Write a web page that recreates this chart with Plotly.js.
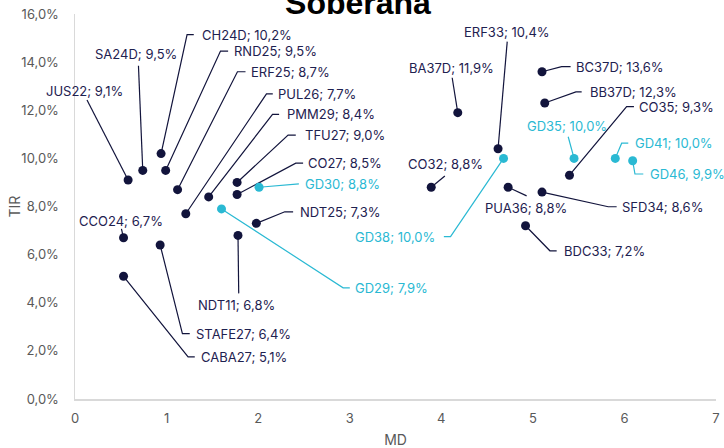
<!DOCTYPE html>
<html>
<head>
<meta charset="utf-8">
<script src="https://cdn.plot.ly/plotly-3.0.1.min.js"></script>
<style>html,body{margin:0;padding:0;background:#fff;}#chart{width:724px;height:448px;}</style>
</head>
<body>
<div id="chart"></div>
<script>
// ---- data ----
var names = ["JUS22","SA24D","CH24D","RND25","ERF25","PUL26","PMM29","TFU27","CO27","GD30","GD29","NDT25","CCO24","STAFE27","CABA27","NDT11",
             "ERF33","BA37D","BC37D","BB37D","CO35","GD35","GD41","GD46","CO32","PUA36","SFD34","GD38","BDC33"];
var md  = [0.58,0.74,0.94,0.99,1.12,1.21,1.46,1.77,1.77,2.01,1.60,1.98,0.53,0.93,0.53,1.78,
           4.62,4.18,5.10,5.13,5.40,5.45,5.90,6.09,3.89,4.73,5.10,4.68,4.92];
var tir = [9.1,9.5,10.2,9.5,8.7,7.7,8.4,9.0,8.5,8.8,7.9,7.3,6.7,6.4,5.1,6.8,
           10.4,11.9,13.6,12.3,9.3,10.0,10.0,9.9,8.8,8.8,8.6,10.0,7.2];
var labels = ["JUS22; 9,1%","SA24D; 9,5%","CH24D; 10,2%","RND25; 9,5%","ERF25; 8,7%","PUL26; 7,7%","PMM29; 8,4%","TFU27; 9,0%","CO27; 8,5%","GD30; 8,8%","GD29; 7,9%","NDT25; 7,3%","CCO24; 6,7%","STAFE27; 6,4%","CABA27; 5,1%","NDT11; 6,8%",
              "ERF33; 10,4%","BA37D; 11,9%","BC37D; 13,6%","BB37D; 12,3%","CO35; 9,3%","GD35; 10,0%","GD41; 10,0%","GD46, 9,9%","CO32; 8,8%","PUA36; 8,8%","SFD34; 8,6%","GD38; 10,0%","BDC33; 7,2%"];
var hardDollar = ["GD30","GD29","GD35","GD41","GD46","GD38"];

// ---- label placement (layout only): text anchor [x, y, xanchor], leader path points after the marker ----
var place = {
  JUS22:  {t:[0.10,12.81,'center'], p:[[0.131,12.43]]},
  SA24D:  {t:[0.669,14.33,'center'], p:[[0.693,13.85]]},
  CH24D:  {t:[1.363,15.14,'left'], p:[[1.224,15.14],[1.297,15.14]]},
  RND25:  {t:[1.715,14.46,'left'], p:[[1.589,14.46],[1.672,14.46]]},
  ERF25:  {t:[1.901,13.60,'left'], p:[[1.774,13.60],[1.862,13.60]]},
  PUL26:  {t:[2.200,12.68,'left'], p:[[2.091,12.68],[2.160,12.68]]},
  PMM29:  {t:[2.291,11.83,'left'], p:[[2.157,11.83],[2.229,11.83]]},
  TFU27:  {t:[2.491,10.97,'left'], p:[[2.327,10.97],[2.411,10.97]]},
  CO27:   {t:[2.528,9.80,'left'], p:[[2.411,9.80],[2.491,9.80]]},
  GD30:   {t:[2.485,8.94,'left'], p:[[2.445,8.94]]},
  GD29:   {t:[3.034,4.62,'left'], p:[[2.928,4.62],[3.001,4.62]]},
  NDT25:  {t:[2.430,7.78,'left'], p:[[2.291,7.78],[2.382,7.78]]},
  CCO24:  {t:[0.499,7.38,'center'], p:[[0.507,7.07]]},
  STAFE27:{t:[1.300,2.72,'left'], p:[[1.173,2.72],[1.253,2.72]]},
  CABA27: {t:[1.351,1.75,'left'], p:[[1.235,1.75],[1.308,1.75]]},
  NDT11:  {t:[1.769,3.91,'center'], p:[[1.788,4.39]]},
  ERF33:  {t:[4.72,15.25,'center'], p:[[4.72,14.85]]},
  BA37D:  {t:[4.108,13.76,'center'], p:[[4.119,13.35]]},
  BC37D:  {t:[5.452,13.81,'left'], p:[[5.314,13.81],[5.412,13.81]]},
  BB37D:  {t:[5.598,12.76,'left'], p:[[5.470,12.76],[5.533,12.76]]},
  CO35:   {t:[6.140,12.15,'left'], p:[[6.024,12.15],[6.104,12.15]]},
  GD35:   {t:[5.375,11.35,'center'], p:[[5.386,10.90]]},
  GD41:   {t:[6.090,10.63,'left'], p:[[5.970,10.63],[6.042,10.63]]},
  GD46:   {t:[6.260,9.35,'left'], p:[[6.115,9.35],[6.206,9.35]]},
  CO32:   {t:[4.042,9.75,'center'], p:[[4.039,9.27]]},
  PUA36:  {t:[4.926,7.94,'center'], p:[[4.932,8.44]]},
  SFD34:  {t:[5.951,7.99,'left'], p:[[5.823,7.99],[5.915,7.99]]},
  GD38:   {t:[3.955,6.75,'right'], p:[[4.101,6.75],[4.028,6.75]]},
  BDC33:  {t:[5.321,6.16,'left'], p:[[5.186,6.16],[5.260,6.16]]}
};

var NAVY = '#12143c', NAVYTXT = '#1e2150', CYAN = '#2ab9d3';

var navyX=[],navyY=[],cyanX=[],cyanY=[];
var annotations=[], shapes=[];
for (var i=0;i<names.length;i++){
  var isC = hardDollar.indexOf(names[i])>=0;
  if(isC){cyanX.push(md[i]);cyanY.push(tir[i]);} else {navyX.push(md[i]);navyY.push(tir[i]);}
  var pl = place[names[i]];
  var path = 'M '+md[i]+','+tir[i];
  pl.p.forEach(function(q){ path += ' L '+q[0]+','+q[1]; });
  shapes.push({type:'path', xref:'x', yref:'y', path:path, layer:'below',
               line:{color:isC?CYAN:NAVY, width:1.2}});
  annotations.push({xref:'x', yref:'y', x:pl.t[0], y:pl.t[1], xanchor:pl.t[2], yanchor:'middle',
                    text:labels[i], showarrow:false,
                    font:{family:'Inter, sans-serif', size:13, color:isC?CYAN:NAVYTXT}});
}
annotations.push({xref:'paper', yref:'paper', x:-0.095, y:0.5, xanchor:'center', yanchor:'middle', textangle:-90,
                  text:'TIR', showarrow:false, font:{family:'Inter, sans-serif', size:14, color:'#595959'}});

var traces = [
  {type:'scatter', mode:'markers', x:navyX, y:navyY, marker:{color:NAVY, size:9}, hoverinfo:'skip'},
  {type:'scatter', mode:'markers', x:cyanX, y:cyanY, marker:{color:CYAN, size:9}, hoverinfo:'skip'}
];

var layout = {
  width:724, height:448,
  margin:{l:75, r:8, t:14, b:49},
  paper_bgcolor:'#fff', plot_bgcolor:'#fff',
  showlegend:false,
  separators:',.',
  title:{text:'Soberana', x:358/724, xanchor:'center', xref:'container', y:0.993, yref:'container', yanchor:'middle',
         font:{family:'Liberation Sans, Arial, sans-serif', size:32, color:'#000', weight:'bold'}},
  xaxis:{range:[0,7], dtick:1, tick0:0, showgrid:false, zeroline:false, showline:true, linecolor:'#d9d9d9', linewidth:1.5,
         ticks:'', ticklabelstandoff:7, tickfont:{family:'Inter, sans-serif', size:13, color:'#595959'},
         title:{text:'MD', standoff:13, font:{family:'Inter, sans-serif', size:14, color:'#595959'}}},
  yaxis:{range:[0,16], dtick:2, tick0:0, tickformat:'.1f', ticksuffix:'%', showgrid:false, zeroline:false,
         showline:true, linecolor:'#d9d9d9', linewidth:1.5, ticks:'', ticklabelstandoff:12,
         tickfont:{family:'Inter, sans-serif', size:13, color:'#595959'}},
  annotations:annotations,
  shapes:shapes
};

Plotly.newPlot('chart', traces, layout, {displayModeBar:false, staticPlot:true});
</script>
</body>
</html>
